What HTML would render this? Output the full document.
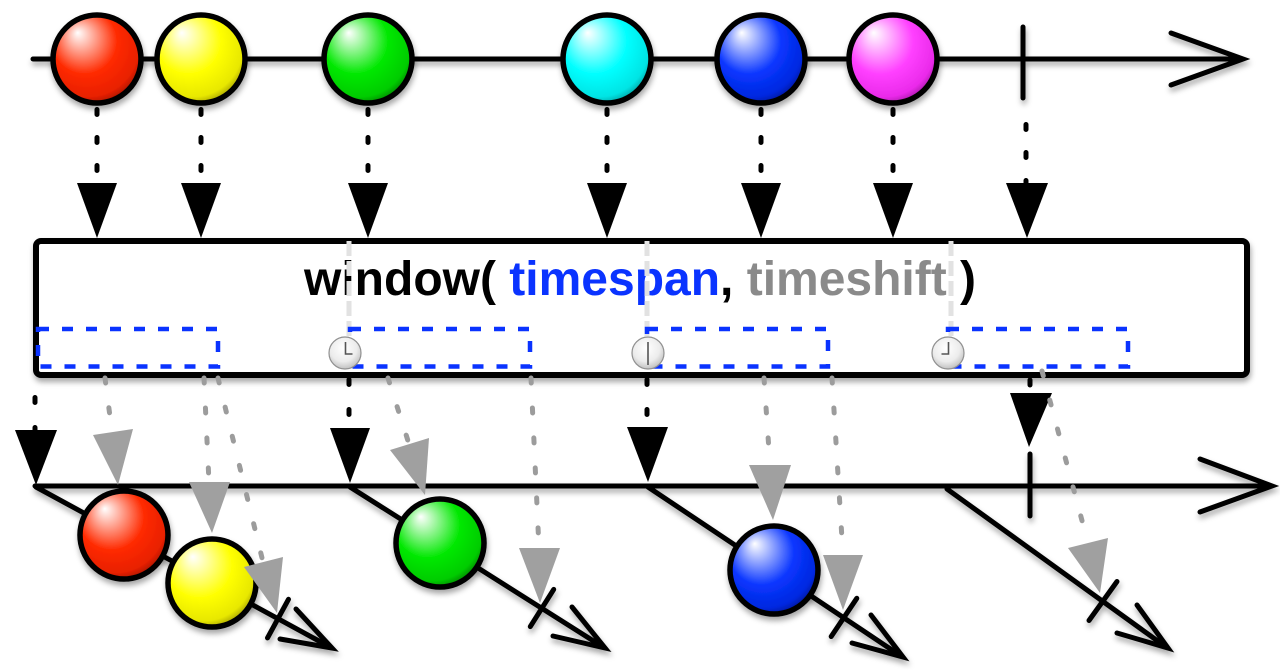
<!DOCTYPE html>
<html>
<head>
<meta charset="utf-8">
<style>
  html,body{margin:0;padding:0;background:#fff;}
  svg{display:block;}
</style>
</head>
<body>
<svg width="1280" height="670" viewBox="0 0 1280 670" xmlns="http://www.w3.org/2000/svg">
<defs>
  <filter id="sh" filterUnits="userSpaceOnUse" x="0" y="0" width="1280" height="670">
    <feDropShadow dx="1" dy="4" stdDeviation="3" flood-color="#000" flood-opacity="0.35"/>
  </filter>
  <radialGradient id="gRed" cx="42%" cy="38%" r="68%" fx="28%" fy="20%">
    <stop offset="0" stop-color="#ffffff"/>
    <stop offset="0.55" stop-color="#ff2a00"/>
    <stop offset="0.85" stop-color="#e82000"/>
    <stop offset="1" stop-color="#8a1000"/>
  </radialGradient>
  <radialGradient id="gYel" cx="42%" cy="38%" r="68%" fx="28%" fy="20%">
    <stop offset="0" stop-color="#ffffff"/>
    <stop offset="0.55" stop-color="#ffff00"/>
    <stop offset="0.85" stop-color="#e8e800"/>
    <stop offset="1" stop-color="#8a8500"/>
  </radialGradient>
  <radialGradient id="gGrn" cx="42%" cy="38%" r="68%" fx="28%" fy="20%">
    <stop offset="0" stop-color="#ffffff"/>
    <stop offset="0.55" stop-color="#00e800"/>
    <stop offset="0.85" stop-color="#00cc00"/>
    <stop offset="1" stop-color="#006a00"/>
  </radialGradient>
  <radialGradient id="gCyn" cx="42%" cy="38%" r="68%" fx="28%" fy="20%">
    <stop offset="0" stop-color="#ffffff"/>
    <stop offset="0.55" stop-color="#00ffff"/>
    <stop offset="0.85" stop-color="#00e4e4"/>
    <stop offset="1" stop-color="#008a8a"/>
  </radialGradient>
  <radialGradient id="gBlu" cx="42%" cy="38%" r="68%" fx="28%" fy="20%">
    <stop offset="0" stop-color="#ffffff"/>
    <stop offset="0.55" stop-color="#0a36ff"/>
    <stop offset="0.85" stop-color="#0028e0"/>
    <stop offset="1" stop-color="#001080"/>
  </radialGradient>
  <radialGradient id="gMag" cx="42%" cy="38%" r="68%" fx="28%" fy="20%">
    <stop offset="0" stop-color="#ffffff"/>
    <stop offset="0.55" stop-color="#ff40ff"/>
    <stop offset="0.85" stop-color="#ea2aea"/>
    <stop offset="1" stop-color="#901090"/>
  </radialGradient>
  <radialGradient id="gClk" cx="45%" cy="35%" r="70%">
    <stop offset="0" stop-color="#ffffff"/>
    <stop offset="0.6" stop-color="#ececec"/>
    <stop offset="1" stop-color="#b8b8b8"/>
  </radialGradient>
</defs>

<!-- ===== TOP SOURCE LINE ===== -->
<g filter="url(#sh)" stroke="#000" stroke-width="5" stroke-linecap="round" fill="none">
  <line x1="33" y1="59" x2="1242" y2="59"/>
  <polyline points="1171,33 1243,59 1171,85" stroke-linejoin="miter"/>
  <line x1="1023" y1="27" x2="1023" y2="98"/>
</g>

<!-- top connectors (dashed) -->
<g stroke="#000" stroke-width="5" stroke-linecap="round" stroke-dasharray="5 23" fill="none">
  <line x1="97" y1="109.5" x2="97" y2="183"/>
  <line x1="201" y1="109.5" x2="201" y2="183"/>
  <line x1="368" y1="109.5" x2="368" y2="183"/>
  <line x1="607" y1="109.5" x2="607" y2="183"/>
  <line x1="761" y1="109.5" x2="761" y2="183"/>
  <line x1="893" y1="109.5" x2="893" y2="183"/>
  <line x1="1026" y1="124.5" x2="1026" y2="185"/>
</g>
<g fill="#000">
  <polygon points="77,183 117,183 97,238"/>
  <polygon points="181,183 221,183 201,238"/>
  <polygon points="348,183 388,183 368,238"/>
  <polygon points="587,183 627,183 607,238"/>
  <polygon points="741,183 781,183 761,238"/>
  <polygon points="873,183 913,183 893,238"/>
  <polygon points="1006,183 1048,183 1027,238"/>
</g>

<!-- top balls -->
<g filter="url(#sh)" stroke="#000" stroke-width="5.5">
  <circle cx="97" cy="59" r="44" fill="url(#gRed)"/>
  <circle cx="201" cy="59" r="44" fill="url(#gYel)"/>
  <circle cx="368" cy="59" r="44" fill="url(#gGrn)"/>
  <circle cx="607" cy="59" r="44" fill="url(#gCyn)"/>
  <circle cx="761" cy="59" r="44" fill="url(#gBlu)"/>
  <circle cx="893" cy="59" r="44" fill="url(#gMag)"/>
</g>

<!-- ===== OPERATOR BOX ===== -->
<rect x="36" y="241" width="1211" height="134" rx="5" ry="5" fill="#fff" stroke="#000" stroke-width="6" filter="url(#sh)"/>

<text x="304" y="295" font-family="'Liberation Sans', Arial, sans-serif" font-weight="bold" font-size="48" fill="#000">window( <tspan fill="#0a33ff">timespan</tspan>, <tspan fill="#8a8a8a">timeshift</tspan> )</text>

<!-- light gray dashed vertical guides -->
<g stroke="#e2e2e2" stroke-width="5" stroke-dasharray="15 5" fill="none">
  <line x1="349" y1="241" x2="349" y2="338"/>
  <line x1="647" y1="241" x2="647" y2="338"/>
  <line x1="951" y1="241" x2="951" y2="338"/>
</g>

<!-- blue dashed windows -->
<g stroke="#0a33ff" stroke-width="4.5" stroke-dasharray="11 13" fill="none">
  <rect x="38" y="329" width="180" height="37.5"/>
  <rect x="350" y="329" width="180" height="37.5"/>
  <rect x="647" y="329" width="181" height="37.5"/>
  <rect x="948" y="329" width="180" height="37.5"/>
</g>

<!-- clocks -->
<g>
  <circle cx="345" cy="353" r="16" fill="url(#gClk)" stroke="#909090" stroke-width="1.2"/>
  <polyline points="345.5,342 345.5,354 352.5,354" fill="none" stroke="#555" stroke-width="1.6"/>
  <circle cx="648" cy="353" r="16" fill="url(#gClk)" stroke="#909090" stroke-width="1.2"/>
  <line x1="648" y1="342" x2="648" y2="365" stroke="#555" stroke-width="1.6"/>
  <circle cx="948" cy="353" r="16" fill="url(#gClk)" stroke="#909090" stroke-width="1.2"/>
  <polyline points="948.5,342 948.5,354 941.5,354" fill="none" stroke="#555" stroke-width="1.6"/>
</g>

<!-- ===== OUTPUT LINE & WINDOWS ===== -->
<g filter="url(#sh)" stroke="#000" stroke-width="5" stroke-linecap="round" fill="none">
  <line x1="35" y1="486" x2="1271" y2="486"/>
  <polyline points="1200,459 1272,486 1200,512"/>
  <line x1="1030" y1="454" x2="1030" y2="516"/>
  <!-- W1 -->
  <line x1="36" y1="487" x2="330" y2="647"/>
  <polyline points="296,609 332,648 280,639"/>
  <line x1="288.5" y1="599.3" x2="267.5" y2="637.9"/>
  <!-- W2 -->
  <line x1="350" y1="487" x2="603" y2="647"/>
  <polyline points="572,607 605,648 553,636"/>
  <line x1="553.7" y1="589.4" x2="530.3" y2="626.6"/>
  <!-- W3 -->
  <line x1="648" y1="487" x2="901" y2="656"/>
  <polyline points="871,615 903,657 852,643"/>
  <line x1="856.8" y1="598.3" x2="831.2" y2="636.5"/>
  <!-- W4 -->
  <line x1="947" y1="489" x2="1166" y2="647"/>
  <polyline points="1137,605 1168,648 1117,633"/>
  <line x1="1117" y1="581.5" x2="1089" y2="620.5"/>
</g>

<!-- output balls -->
<g filter="url(#sh)" stroke="#000" stroke-width="5.5">
  <circle cx="124" cy="535" r="44" fill="url(#gRed)"/>
  <circle cx="212" cy="583" r="44" fill="url(#gYel)"/>
  <circle cx="440" cy="543" r="44" fill="url(#gGrn)"/>
  <circle cx="774" cy="570" r="44" fill="url(#gBlu)"/>
</g>

<!-- black connectors to output -->
<g stroke="#000" stroke-width="5" stroke-linecap="round" stroke-dasharray="5 25" fill="none">
  <line x1="35" y1="397.5" x2="35" y2="430"/>
  <line x1="349" y1="379.5" x2="349" y2="428"/>
  <line x1="647" y1="379.5" x2="647" y2="427"/>
  <line x1="1030" y1="380" x2="1030" y2="393"/>
</g>
<g fill="#000">
  <polygon points="15,430 57,430 36,485"/>
  <polygon points="330,428 370,428 350,483"/>
  <polygon points="627,427 668,427 648,482"/>
  <polygon points="1010,393 1052,393 1029,447"/>
</g>

<!-- gray connectors -->
<g stroke="#9c9c9c" stroke-width="5" stroke-linecap="round" stroke-dasharray="5 25" fill="none">
  <line x1="105" y1="378" x2="112" y2="432"/>
  <line x1="204" y1="378" x2="209" y2="482"/>
  <line x1="218" y1="378" x2="263" y2="562"/>
  <line x1="388" y1="378" x2="409" y2="444"/>
  <line x1="531" y1="378" x2="539" y2="548"/>
  <line x1="764" y1="378" x2="770" y2="465"/>
  <line x1="832" y1="378" x2="843" y2="555"/>
  <line x1="1042" y1="371" x2="1088" y2="543"/>
</g>
<g fill="#a0a0a0">
  <polygon points="93,435 133,429 118,485"/>
  <polygon points="189,482 230,482 212,533"/>
  <polygon points="244,567 283,557 277,613"/>
  <polygon points="390,450 429,438 425,495"/>
  <polygon points="519,548 560,548 540,603"/>
  <polygon points="749,465 791,465 773,520"/>
  <polygon points="823,555 863,555 843,610"/>
  <polygon points="1068,548 1108,538 1100,593"/>
</g>
</svg>
</body>
</html>
